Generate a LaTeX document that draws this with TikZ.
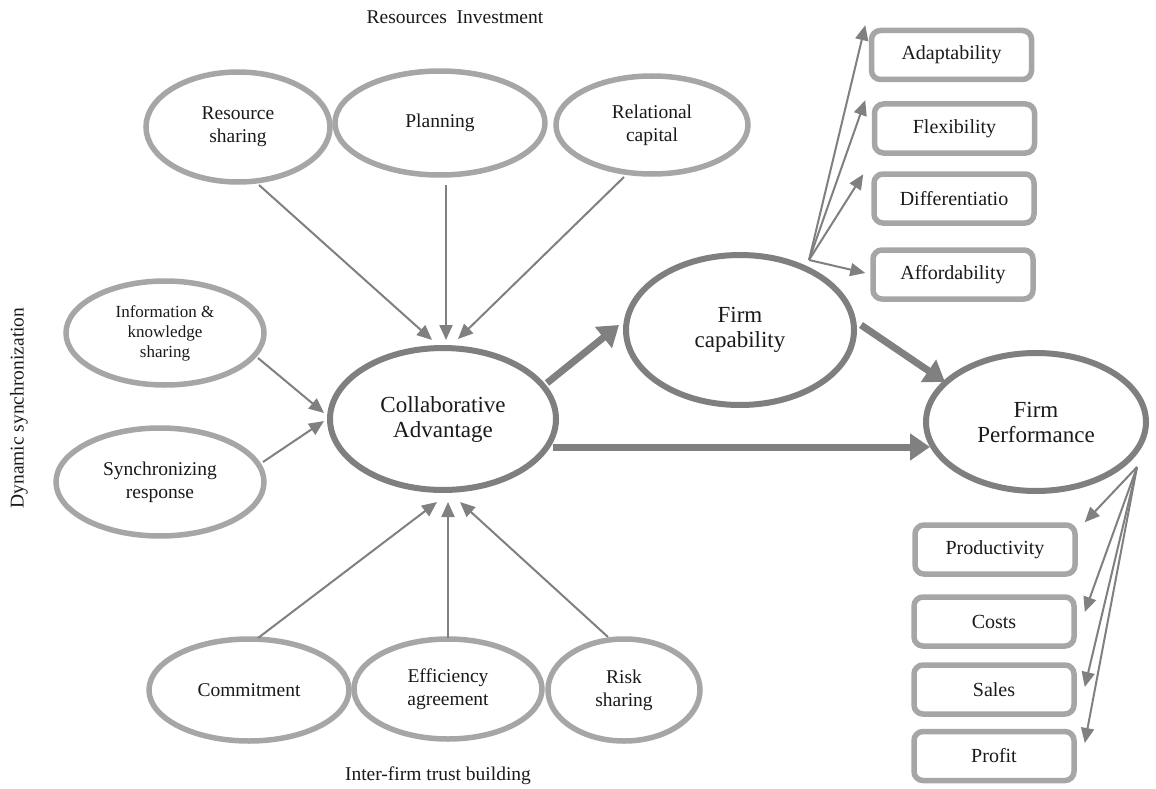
\documentclass[tikz,border=0pt]{standalone}
\usepackage{fontspec}
\setmainfont{Liberation Serif}
\usetikzlibrary{arrows.meta,shapes.geometric,calc}

\definecolor{ovalgray}{HTML}{A6A6A6}
\definecolor{coregray}{HTML}{7F7F7F}
\definecolor{arrowgray}{HTML}{808080}
\definecolor{inktext}{HTML}{1A1A1A}

\begin{document}
\begin{tikzpicture}[x=1pt,y=-1pt,
  oval/.style={ellipse, draw=ovalgray, line width=5.5pt, inner sep=0pt,
    align=center, text=inktext, font=\fontsize{19.5}{23}\selectfont},
  coreoval/.style={ellipse, draw=coregray, line width=6pt, inner sep=0pt,
    align=center, text=inktext, font=\fontsize{23}{25}\selectfont},
  metric/.style={draw=ovalgray, line width=5.5pt, rounded corners=9pt,
    minimum width=160pt, minimum height=49pt, inner sep=0pt, text=inktext,
    font=\fontsize{20}{23}\selectfont},
  link/.style={draw=arrowgray, line width=2pt,
    -{Triangle[length=15pt,width=13pt]}},
  mainlink/.style={draw=arrowgray, line width=7pt,
    -{Triangle[length=20pt,width=26pt]}},
  heading/.style={text=inktext, font=\fontsize{19.5}{23}\selectfont}
]
\fill[white] (0,0) rectangle (1156,789);
\useasboundingbox (0,0) rectangle (1156,789);

% group headings
\node[heading] (resinv) at (455,17) {Resources\ \ Investment};
\node[heading] (trust) at (438,776) {Inter-firm trust building};
\node[heading, rotate=90] (dynsync) at (19,408) {Dynamic synchronization};

% antecedents
\node[oval, minimum width=184pt, minimum height=110pt] (share) at (238,127) {Resource\\sharing};
\node[oval, minimum width=210pt, minimum height=104pt] (plan) at (440,123) {Planning};
\node[oval, minimum width=192pt, minimum height=98pt] (relcap) at (652,125) {Relational\\capital};
\node[oval, minimum width=198pt, minimum height=104pt,
      font=\fontsize{17}{20}\selectfont] (info) at (165,333) {Information \&\\knowledge\\sharing};
\node[oval, minimum width=208pt, minimum height=108pt] (sync) at (160,482) {Synchronizing\\response};
\node[oval, minimum width=200pt, minimum height=102pt] (commit) at (249,690) {Commitment};
\node[oval, minimum width=188pt, minimum height=100pt] (effic) at (448,689) {Efficiency\\agreement};
\node[oval, minimum width=152pt, minimum height=102pt] (risk) at (624,690) {Risk\\sharing};

% core constructs
\node[coreoval, minimum width=226pt, minimum height=142pt] (collab) at (443,419) {Collaborative\\Advantage};
\node[coreoval, minimum width=228pt, minimum height=150pt] (fcap) at (740,330) {Firm\\capability};
\node[coreoval, minimum width=220pt, minimum height=138pt] (fperf) at (1036,422) {Firm\\Performance};

% capability dimensions
\node[metric] (adapt) at (951.5,55) {Adaptability};
\node[metric] (flex) at (954.5,128.5) {Flexibility};
\node[metric] (diff) at (954,198.5) {Differentiatio};
\node[metric] (afford) at (953,274.5) {Affordability};

% performance dimensions
\node[metric] (prod) at (995,549.5) {Productivity};
\node[metric] (costs) at (994,621.5) {Costs};
\node[metric] (sales) at (994,689.5) {Sales};
\node[metric] (profit) at (994,756) {Profit};

% fan-out points
\coordinate (capfan) at (809,260);
\coordinate (perffan) at (1137,467);

% antecedents -> collaborative advantage
\draw[link] ([shift={(21,58)}]share.center) -- ([shift={(-11,-5)}]collab.north);
\draw[link] ([shift={(6,62)}]plan.center) -- ([shift={(3,-5)}]collab.north);
\draw[link] ([shift={(-28,52)}]relcap.center) -- ([shift={(15,-6)}]collab.north);
\draw[link] ([shift={(93,25)}]info.center) -- ([shift={(-3,-6)}]collab.west);
\draw[link] ([shift={(103,-20)}]sync.center) -- ([shift={(-3,2)}]collab.west);
\draw[link] ([shift={(9,-52)}]commit.center) -- ([shift={(-6,9)}]collab.south);
\draw[link] ([shift={(0,-51)}]effic.center) -- ([shift={(5,9)}]collab.south);
\draw[link] ([shift={(-16,-53)}]risk.center) -- ([shift={(17,9)}]collab.south);

% main paths
\draw[mainlink] ([shift={(104,-36)}]collab.center) -- ([shift={(-4,-5)}]fcap.west);
\draw[mainlink] ([shift={(4,-5)}]fcap.east) -- ([shift={(-91,-40)}]fperf.center);
\draw[mainlink] ([shift={(110,28)}]collab.center) -- ([shift={(7,25)}]fperf.west);

% capability fan
\draw[link] (capfan) -- ([shift={(-3.5,-2.5)}]adapt.north west);
\draw[link] (capfan) -- ([shift={(-6.5,-1)}]flex.north west);
\draw[link] (capfan) -- ([shift={(-8,3)}]diff.north west);
\draw[link] (capfan) -- ([shift={(-5,-1.5)}]afford.west);

% performance fan
\draw[link] (perffan) -- ([shift={(7,0)}]prod.north east);
\draw[link] (perffan) -- ([shift={(8,-9.5)}]costs.east);
\draw[link] (perffan) -- ([shift={(8,-2.5)}]sales.east);
\draw[link] (perffan) -- ([shift={(8,-13)}]profit.east);
\end{tikzpicture}
\end{document}
